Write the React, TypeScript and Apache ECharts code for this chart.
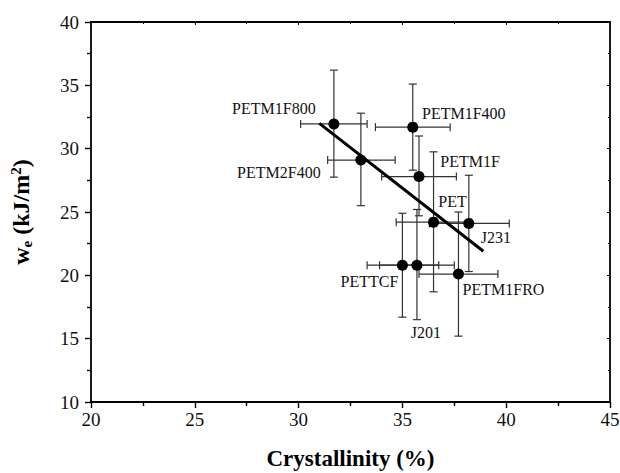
import React, { useEffect, useRef } from "react";
import * as echarts from "echarts";

const names = ["PETM1F800", "PETM1F400", "PETM2F400", "PETM1F", "PET", "J231", "PETTCF", "J201", "PETM1FRO"];
const crystallinity = [31.7, 35.5, 33.0, 35.8, 36.5, 38.2, 35.0, 35.7, 37.7];
const we = [31.95, 31.7, 29.1, 27.8, 24.2, 24.1, 20.8, 20.8, 20.1];
const xLow = [30.1, 33.7, 31.4, 34.0, 34.7, 36.3, 33.3, 33.9, 35.8];
const xHigh = [33.3, 37.3, 34.65, 37.6, 38.3, 40.15, 36.75, 37.5, 39.6];
const yLow = [27.75, 28.3, 25.5, 24.7, 18.7, 20.3, 16.7, 16.5, 15.2];
const yHigh = [36.2, 35.1, 32.8, 31.0, 29.75, 27.9, 24.9, 25.2, 25.0];
const fitX = [31.0, 38.9];
const fitY = [32.0, 21.9];

// label offsets (pixels, relative to marker centre)
const labelOffsets: [number, number][] = [
  [-60, -15], [51, -14], [-82, 12], [51, -15], [19, -21], [27, 14], [-33, 16], [9, 67], [45, 15],
];

const FONT = "Liberation Serif";

export default function App() {
  const ref = useRef<HTMLDivElement>(null);
  useEffect(() => {
    if (!ref.current) return;
    const chart = echarts.init(ref.current, null, { renderer: "svg" });
    const errData = names.map((_, i) => [crystallinity[i], we[i], xLow[i], xHigh[i], yLow[i], yHigh[i]]);
    const cap = 4;
    const axisCommon = {
      axisLine: { show: true, lineStyle: { color: "#000", width: 1.8 } },
      splitLine: { show: false },
    };
    const tickMain = { show: true, inside: false, length: 6, lineStyle: { color: "#000", width: 1.4 } };
    const tickMinor = { show: true, splitNumber: 2, length: 4, lineStyle: { color: "#000", width: 1.4 } };
    chart.setOption({
      animation: false,
      backgroundColor: "#fff",
      grid: { left: 91, top: 22, right: 10, bottom: 71, containLabel: false, outerBoundsMode: "none" },
      xAxis: [
        {
          type: "value", min: 20, max: 45, interval: 5, position: "bottom",
          ...axisCommon,
          axisTick: tickMain,
          minorTick: tickMinor,
          axisLabel: { fontFamily: FONT, fontSize: 19, color: "#111", margin: 8 },
          name: "Crystallinity (%)", nameLocation: "middle", nameGap: 44,
          nameTextStyle: { fontFamily: FONT, fontSize: 23, fontWeight: "bold", color: "#000", lineHeight: 24 },
        },
        {
          type: "value", min: 20, max: 45, interval: 5, position: "top",
          ...axisCommon,
          axisTick: { show: true, inside: true, length: 3, lineStyle: { color: "#000" } },
          minorTick: { show: true, splitNumber: 2, length: 2, lineStyle: { color: "#000" } },
          axisLabel: { show: false },
        },
      ],
      yAxis: [
        {
          type: "value", min: 10, max: 40, interval: 5, position: "left",
          ...axisCommon,
          axisTick: tickMain,
          minorTick: tickMinor,
          axisLabel: { fontFamily: FONT, fontSize: 19, color: "#111", margin: 12 },
          name: "{b|w}{sub|e}{b| (kJ/m}{sup|2}{b|)}", nameLocation: "middle", nameGap: 57,
          nameTextStyle: {
            fontFamily: FONT, fontSize: 24, fontWeight: "bold", color: "#000",
            rich: {
              b: { fontFamily: FONT, fontSize: 24, fontWeight: "bold", color: "#000" },
              sub: { fontFamily: FONT, fontSize: 15, fontWeight: "bold", color: "#000", verticalAlign: "bottom", padding: [9, 0, 0, 0] },
              sup: { fontFamily: FONT, fontSize: 15, fontWeight: "bold", color: "#000", verticalAlign: "top", padding: [0, 0, 11, 0] },
            },
          },
        },
        {
          type: "value", min: 10, max: 40, interval: 5, position: "right",
          ...axisCommon,
          axisTick: { show: true, inside: true, length: 3, lineStyle: { color: "#000" } },
          minorTick: { show: true, splitNumber: 2, length: 2, lineStyle: { color: "#000" } },
          axisLabel: { show: false },
        },
      ],
      series: [
        {
          type: "custom",
          xAxisIndex: 0, yAxisIndex: 0,
          data: errData,
          encode: { x: [0, 2, 3], y: [1, 4, 5] },
          z: 1,
          renderItem: (params: any, api: any) => {
            const x = api.value(0), y = api.value(1);
            const c = api.coord([x, y]);
            const l = api.coord([api.value(2), y]);
            const r = api.coord([api.value(3), y]);
            const lo = api.coord([x, api.value(4)]);
            const hi = api.coord([x, api.value(5)]);
            const st = { stroke: "#333", lineWidth: 1.2 };
            return {
              type: "group",
              children: [
                { type: "line", shape: { x1: c[0], y1: lo[1], x2: c[0], y2: hi[1] }, style: st },
                { type: "line", shape: { x1: c[0] - cap, y1: lo[1], x2: c[0] + cap, y2: lo[1] }, style: st },
                { type: "line", shape: { x1: c[0] - cap, y1: hi[1], x2: c[0] + cap, y2: hi[1] }, style: st },
                { type: "line", shape: { x1: l[0], y1: c[1], x2: r[0], y2: c[1] }, style: st },
                { type: "line", shape: { x1: l[0], y1: c[1] - cap, x2: l[0], y2: c[1] + cap }, style: st },
                { type: "line", shape: { x1: r[0], y1: c[1] - cap, x2: r[0], y2: c[1] + cap }, style: st },
              ],
            };
          },
        },
        {
          type: "line",
          data: fitX.map((x, i) => [x, fitY[i]]),
          symbol: "none",
          lineStyle: { color: "#000", width: 3 },
          z: 2,
        },
        {
          type: "scatter",
          symbol: "circle",
          symbolSize: 11,
          itemStyle: { color: "#000", opacity: 1 },
          z: 3,
          data: names.map((n, i) => ({
            name: n,
            value: [crystallinity[i], we[i]],
            label: {
              show: true,
              formatter: n,
              position: "inside",
              offset: labelOffsets[i],
              fontFamily: FONT,
              fontSize: 16,
              color: "#111",
            },
          })),
        },
      ],
    });
    return () => chart.dispose();
  }, []);
  return <div ref={ref} style={{ position: "fixed", left: 0, top: 0, width: 620, height: 473 }} />;
}
